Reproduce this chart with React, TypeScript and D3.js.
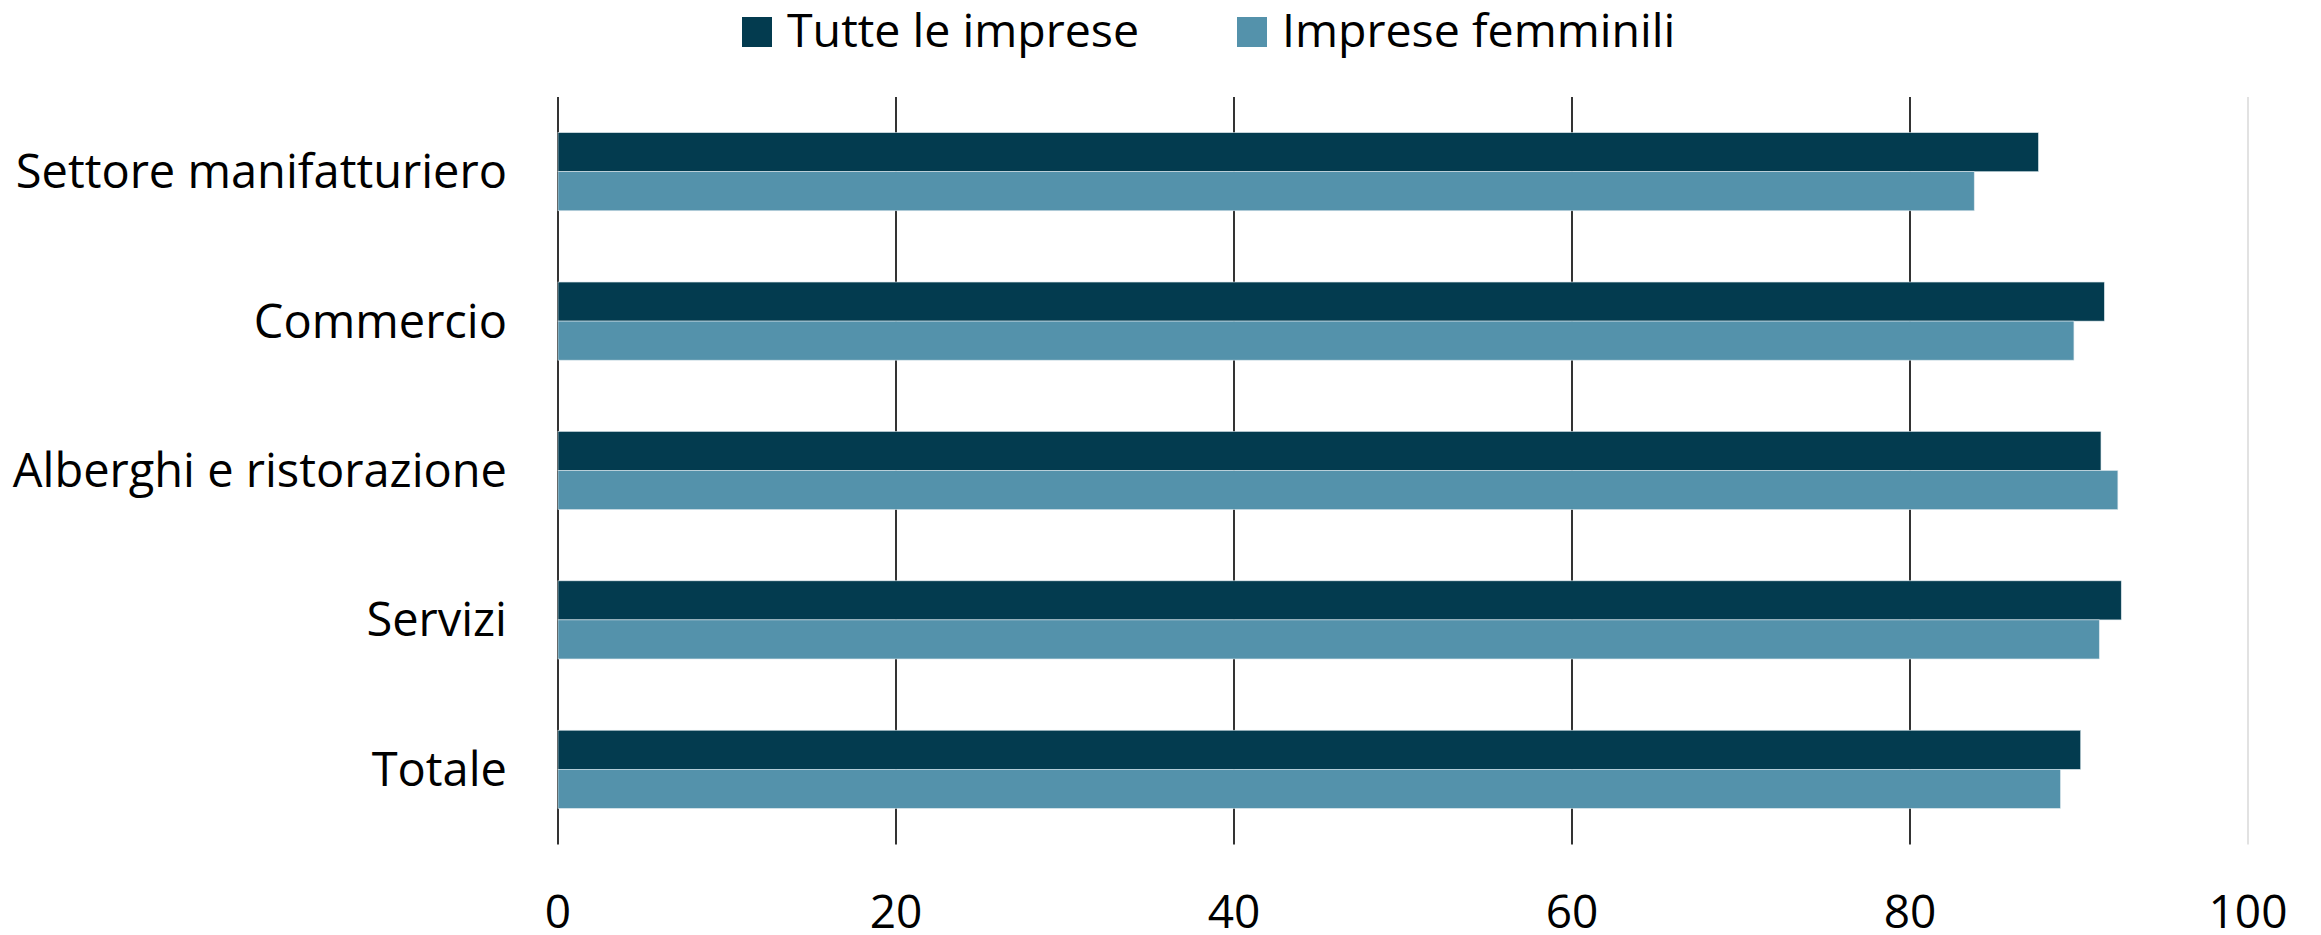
import React from "react";
import * as d3 from "d3";

const categories = [
  "Settore manifatturiero",
  "Commercio",
  "Alberghi e ristorazione",
  "Servizi",
  "Totale",
];
const seriesNames = ["Tutte le imprese", "Imprese femminili"];
const tutteLeImprese = [87.6, 91.5, 91.3, 92.5, 90.1];
const impreseFemminili = [83.8, 89.7, 92.3, 91.2, 88.9];
const xTicks = [0, 20, 40, 60, 80, 100];

const colors = ["#033b4f", "#5492ab"];
const font = "'Open Sans', sans-serif";

const width = 2321;
const height = 935;

export default function App() {
  const margin = { top: 97, right: 73, bottom: 91, left: 558 };

  const x = d3
    .scaleLinear()
    .domain([0, 100])
    .range([margin.left, width - margin.right]);

  const y = d3
    .scaleBand()
    .domain(categories)
    .range([margin.top, height - margin.bottom])
    .paddingInner(0.477)
    .paddingOuter(0.2385);

  const ySub = d3
    .scaleBand()
    .domain(seriesNames)
    .range([0, y.bandwidth()]);

  const series = [tutteLeImprese, impreseFemminili];

  return (
    <svg
      width={width}
      height={height}
      style={{ position: "absolute", left: 0, top: 0, background: "#fff" }}
    >
      {/* gridlines */}
      <g>
        {xTicks.map((t) => (
          <line
            key={t}
            x1={x(t)}
            x2={x(t)}
            y1={margin.top}
            y2={height - margin.bottom + 0.5}
            stroke={t === 100 ? "#d9d9d9" : "#000"}
            strokeWidth={t === 100 ? 1.5 : 1.6}
          />
        ))}
      </g>

      {/* bars */}
      <g>
        {categories.map((c, i) => (
          <g key={c} transform={`translate(0,${y(c)})`}>
            {seriesNames.map((s, j) => (
              <rect
                key={s}
                x={x(0)}
                y={ySub(s)}
                width={x(series[j][i]) - x(0)}
                height={ySub.bandwidth()}
                fill={colors[j]}
                stroke="#dbe6ec"
                strokeWidth={0.6}
              />
            ))}
          </g>
        ))}
      </g>

      {/* category labels */}
      <g fontFamily={font} fontSize={47} fill="#000">
        {categories.map((c) => (
          <text
            key={c}
            x={x(0) - 51}
            y={(y(c) ?? 0) + y.bandwidth() / 2}
            dy="0.35em"
            textAnchor="end"
          >
            {c}
          </text>
        ))}
      </g>

      {/* x tick labels */}
      <g fontFamily={font} fontSize={46} fill="#000">
        {xTicks.map((t) => (
          <text key={t} x={x(t)} y={928} textAnchor="middle">
            {t}
          </text>
        ))}
      </g>

      {/* legend */}
      <g fontFamily={font} fontSize={46.5} fill="#000">
        {seriesNames.map((s, j) => {
          const lx = j === 0 ? 742 : 1237;
          return (
            <g key={s} transform={`translate(${lx},17)`}>
              <rect width={30} height={30} fill={colors[j]} />
              <text x={45} y={30}>
                {s}
              </text>
            </g>
          );
        })}
      </g>
    </svg>
  );
}
